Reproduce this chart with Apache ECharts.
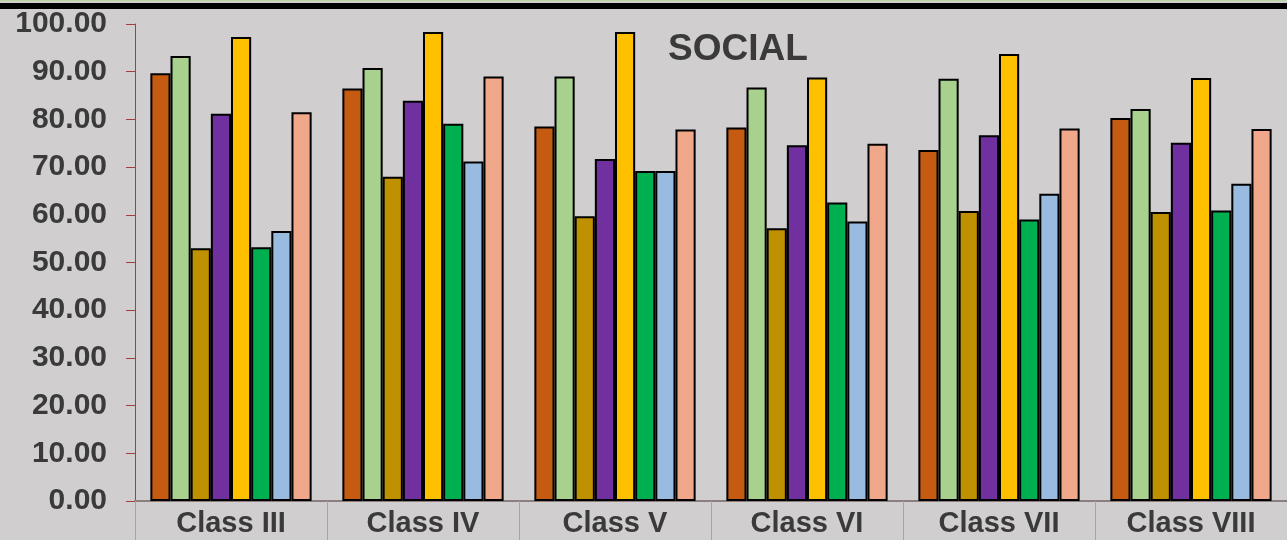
<!DOCTYPE html>
<html>
<head>
<meta charset="utf-8">
<script src="https://cdn.jsdelivr.net/npm/echarts@6/dist/echarts.min.js"></script>
<style>
html,body{margin:0;padding:0;background:#d0cece;}
#chart{width:1287px;height:540px;}
</style>
</head>
<body>
<div id="chart"></div>
<script>
const categories = ['Class III', 'Class IV', 'Class V', 'Class VI', 'Class VII', 'Class VIII'];
const yTicks = [0, 10, 20, 30, 40, 50, 60, 70, 80, 90, 100];
const s1 = [89.7, 86.5, 78.5, 78.3, 73.6, 80.3];
const s2 = [93.3, 90.8, 89.0, 86.7, 88.5, 82.2];
const s3 = [53.0, 68.0, 59.7, 57.2, 60.8, 60.6];
const s4 = [81.2, 83.9, 71.7, 74.6, 76.7, 75.1];
const s5 = [97.3, 98.3, 98.3, 88.8, 93.7, 88.7];
const s6 = [53.2, 79.1, 69.2, 62.6, 59.0, 60.9];
const s7 = [56.6, 71.2, 69.2, 58.6, 64.4, 66.5];
const s8 = [81.5, 89.0, 77.9, 74.9, 78.1, 78.0];
const seriesData = [s1, s2, s3, s4, s5, s6, s7, s8];
const colors = ['#c55a11', '#a9d18e', '#bf9000', '#7030a0', '#ffc000', '#00b050', '#9abbe0', '#f1a88a'];

const chart = echarts.init(document.getElementById('chart'));
chart.setOption({
  backgroundColor: '#d0cece',
  animation: false,
  title: {
    text: 'SOCIAL',
    left: 663,
    top: 26,
    textStyle: { fontFamily: 'Liberation Sans, Arial', fontSize: 37, fontWeight: 'bold', color: '#3a3a3a' }
  },
  graphic: [
    { type: 'rect', shape: { x: 0, y: 0, width: 1287, height: 1 }, style: { fill: '#b8d8a0' } },
    { type: 'rect', shape: { x: 0, y: 3, width: 1287, height: 6 }, style: { fill: '#000000' } }
  ],
  grid: { left: 135, right: 0, top: 24, bottom: 39, containLabel: false },
  xAxis: {
    type: 'category',
    data: categories,
    axisLine: { show: true, lineStyle: { color: '#8c7f7f', width: 2 } },
    axisTick: { show: true, length: 40, lineStyle: { color: '#a5a5a5', width: 1 } },
    axisLabel: { margin: 8, fontFamily: 'Liberation Sans, Arial', fontSize: 29, fontWeight: 'bold', color: '#3a3a3a' }
  },
  yAxis: {
    type: 'value',
    min: 0, max: 100, interval: 10,
    splitLine: { show: false },
    axisLine: { show: true, lineStyle: { color: '#a0403f', width: 1 } },
    axisTick: { show: true, length: 9, lineStyle: { color: '#a0403f' } },
    axisLabel: {
      margin: 28,
      fontFamily: 'Liberation Sans, Arial', fontSize: 30, fontWeight: 'bold', color: '#3a3a3a',
      formatter: v => (yTicks.indexOf(v) >= 0 ? v.toFixed(2) : '')
    }
  },
  series: seriesData.map((d, i) => ({
    name: 'Series ' + (i + 1),
    type: 'bar',
    data: d,
    barGap: '0%',
    barCategoryGap: '16%',
    itemStyle: { color: colors[i], borderColor: '#000000', borderWidth: 2 }
  }))
});
</script>
</body>
</html>
